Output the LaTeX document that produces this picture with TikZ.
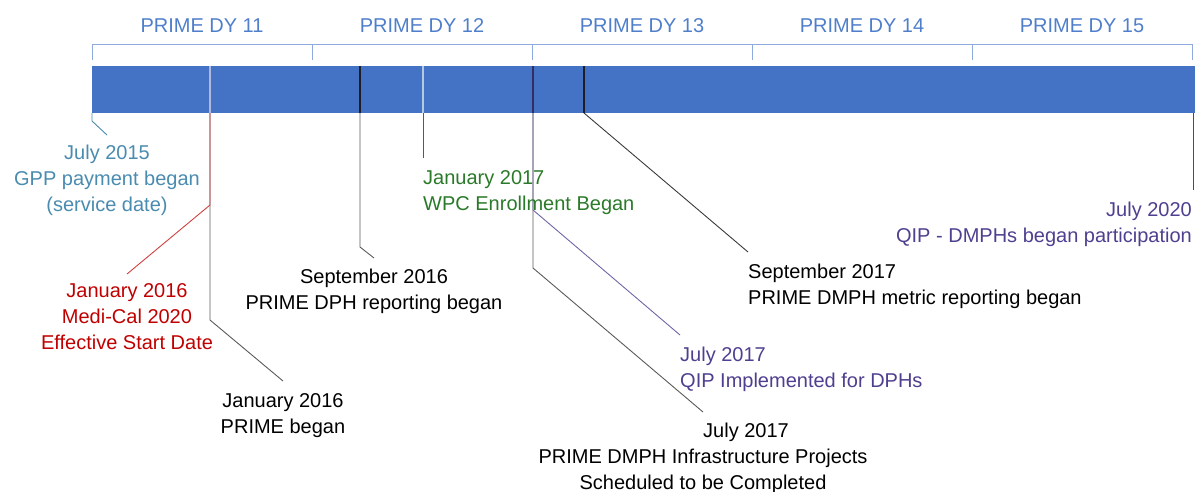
\documentclass[tikz,border=0pt]{standalone}
\usepackage{fontspec}
\setmainfont{Liberation Sans}
\usetikzlibrary{calc,positioning}

\definecolor{barblue}{HTML}{4472C4}
\definecolor{brkblue}{HTML}{8FAADC}
\definecolor{dyblue}{HTML}{4F7ECB}
\definecolor{gppblue}{HTML}{4A8BB0}
\definecolor{medired}{HTML}{C00000}
\definecolor{wpcgreen}{HTML}{2A7A2A}
\definecolor{qippurple}{HTML}{4F3F8F}
\definecolor{leadgray}{HTML}{5A5A5A}
\definecolor{leaddark}{HTML}{3A3A3A}

\begin{document}
\begin{tikzpicture}[x=1pt,y=-1pt,
        lbl/.style={font=\fontsize{20}{26}\selectfont, inner sep=0pt, anchor=base},
        lead/.style={line width=0.9pt},
        barmark/.style={line width=1.1pt}]
        \useasboundingbox (0,0) rectangle (1196,491);

        % demonstration years
        \draw[brkblue,line width=1pt] (92,44) -- (1192,44) -- (1192,60);
        \foreach \i/\x in {11/92,12/312,13/532,14/752,15/972}{
            \draw[brkblue,line width=1pt] (\x,44) -- (\x,60);
            \node [lbl,dyblue] (dy\i) at (\x+110,32) {PRIME DY \i};
        }

        % timeline bar
        \node [fill=barblue, inner sep=0pt, minimum width=1103pt, minimum height=47pt,
               anchor=north west] (bar) at (92,66) {};
        \draw[barmark,color={rgb,255:red,176;green,184;blue,222}] (210,66) -- (210,113);
        \draw[barmark,color={rgb,255:red,30;green,30;blue,40}] (360,66) -- (360,113);
        \draw[barmark,color={rgb,255:red,180;green,200;blue,226}] (423,66) -- (423,113);
        \draw[barmark,color={rgb,255:red,50;green,46;blue,100}] (533,66) -- (533,113);
        \draw[barmark,color={rgb,255:red,30;green,30;blue,40}] (584,66) -- (584,113);

        % points on the bar
        \coordinate (b15) at (92,113);
        \coordinate (b16) at (210,113);
        \coordinate (b16s) at (360,113);
        \coordinate (b17j) at (423,113);
        \coordinate (b17) at (533,113);
        \coordinate (b17s) at (584,113);
        \coordinate (b20) at (1193,113);

        % label ends of the leaders
        \coordinate (e15) at (107,135);
        \coordinate (e16m) at (127,274);
        \coordinate (e16p) at (283,381);
        \coordinate (e16s) at (374,258);
        \coordinate (e17j) at (423,158);
        \coordinate (e17q) at (680,335);
        \coordinate (e17i) at (703,412);
        \coordinate (e17s) at (748,252);
        \coordinate (e20) at (1193,190);

        % leaders
        \draw[lead,gppblue] (b15) -- (92,121) -- (e15);
        \draw[lead,leadgray] (b16) -- (210,320) -- (e16p);
        \draw[lead,medired!75] (b16) -- (210,205) -- (e16m);
        \draw[lead,leadgray] (b16s) -- (360,247) -- (e16s);
        \draw[lead,wpcgreen] (b17j) -- (e17j);
        \draw[lead,leadgray] (b17) -- (533,268) -- (e17i);
        \draw[lead,qippurple!80] (b17) -- (533,210) -- (e17q);
        \draw[lead,leaddark] (b17s) -- (e17s);
        \draw[lead,qippurple] (b20) -- (e20);

        % events (placed at the baseline of their last line)
        \node [lbl,gppblue,align=center] (l15) at (107,211) {July 2015\\GPP payment began\\(service date)};
        \node [lbl,medired,align=center] (l16m) at (127,349) {January 2016\\Medi-Cal 2020\\Effective Start Date};
        \node [lbl,align=center] (l16p) at (283,433) {January 2016\\PRIME began};
        \node [lbl,align=center] (l16s) at (374,309) {September 2016\\PRIME DPH reporting began};
        \node [lbl,wpcgreen,anchor=base west,align=left] (l17j) at (423,210) {January 2017\\WPC Enrollment Began};
        \node [lbl,qippurple,anchor=base west,align=left] (l17q) at (680,387) {July 2017\\QIP Implemented for DPHs};
        \node [lbl,align=center] (l17i) at (703,489) {\hspace*{86pt}July 2017\\PRIME DMPH Infrastructure Projects\\Scheduled to be Completed};
        \node [lbl,anchor=base west,align=left] (l17s) at (748,304) {September 2017\\PRIME DMPH metric reporting began};
        \node [lbl,qippurple,anchor=base east,align=right] (l20) at (1192,242) {July 2020\\QIP - DMPHs began participation};
\end{tikzpicture}
\end{document}
